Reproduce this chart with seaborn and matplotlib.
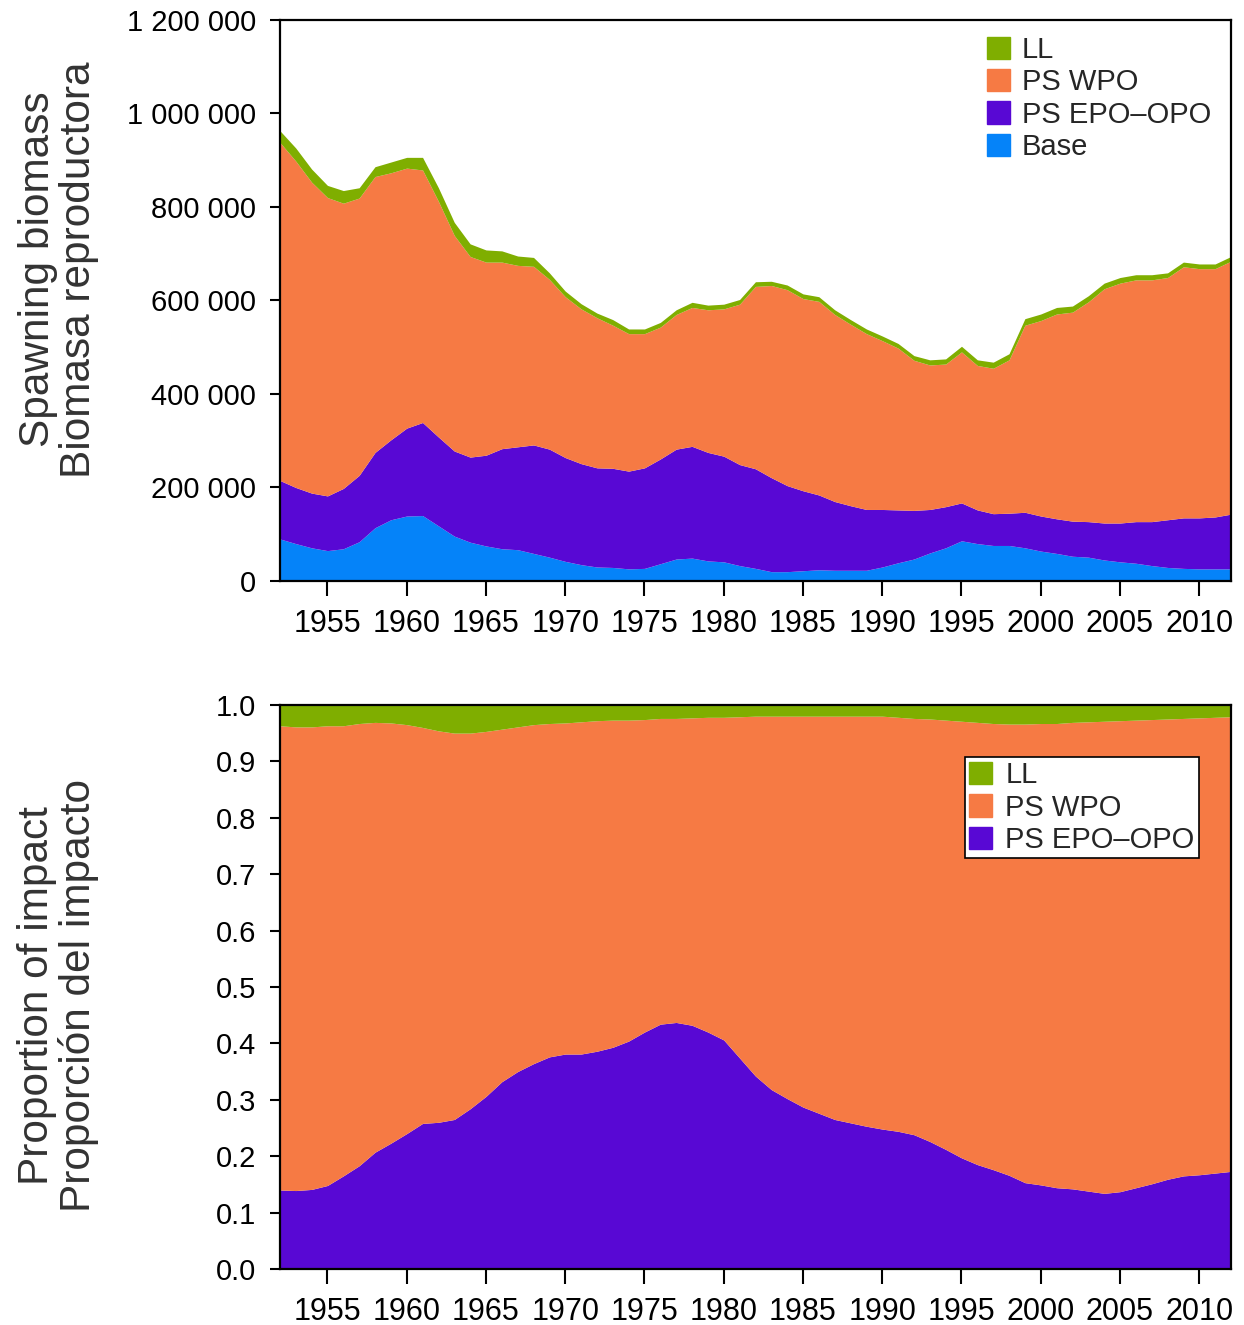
import numpy as np
import pandas as pd
import seaborn as sns
import matplotlib
matplotlib.use("Agg")
import matplotlib.pyplot as plt
from matplotlib.patches import Patch
from matplotlib.ticker import FuncFormatter, MultipleLocator

years = list(range(1952, 2013))

# spawning biomass components (thousands of t), stacked bottom to top
base = [90, 80, 71, 65, 69, 84, 114, 131, 139, 140, 118, 96, 83, 75, 69, 67, 59, 51, 42, 35,
        30, 29, 26, 27, 37, 47, 49, 43, 41, 33, 27, 20, 20, 22, 24, 23, 23, 23, 30, 39,
        47, 60, 71, 86, 80, 76, 76, 71, 64, 59, 53, 51, 45, 41, 38, 33, 29, 27, 26, 26, 26]
ps_epo = [125, 120, 117, 117, 129, 142, 161, 171, 188, 199, 190, 182, 182, 194, 214, 220, 232, 231, 222, 216,
          212, 212, 209, 215, 224, 235, 239, 232, 226, 216, 213, 201, 184, 171, 160, 147, 138, 130, 123, 113,
          104, 93, 88, 81, 72, 68, 69, 76, 75, 74, 75, 76, 79, 83, 89, 94, 102, 108, 109, 111, 117]
ps_wpo = [723, 698, 665, 638, 610, 593, 590, 571, 556, 540, 504, 461, 429, 413, 399, 388, 382, 363, 344, 331,
          321, 306, 294, 287, 282, 288, 297, 305, 315, 343, 390, 411, 419, 411, 414, 400, 388, 376, 361, 346,
          321, 309, 305, 323, 309, 311, 328, 400, 418, 438, 447, 470, 501, 513, 517, 517, 518, 537, 533, 531, 541]
ll = [25, 28, 28, 26, 27, 22, 21, 23, 23, 27, 29, 28, 27, 26, 24, 20, 19, 14, 12, 11,
      10, 12, 10, 10, 10, 10, 11, 10, 10, 10, 10, 9, 10, 10, 10, 10, 10, 10, 10, 10,
      10, 11, 11, 12, 12, 13, 13, 14, 14, 14, 13, 13, 12, 12, 11, 11, 10, 10, 10, 10, 10]

# proportion of impact
prop_epo = [0.140, 0.139, 0.141, 0.148, 0.165, 0.183, 0.207, 0.223, 0.240, 0.258, 0.260, 0.265, 0.284, 0.306,
            0.332, 0.350, 0.364, 0.376, 0.381, 0.381, 0.386, 0.393, 0.404, 0.420, 0.434, 0.437, 0.432, 0.420,
            0.406, 0.374, 0.342, 0.318, 0.302, 0.287, 0.276, 0.265, 0.259, 0.253, 0.248, 0.244, 0.238, 0.226,
            0.212, 0.197, 0.185, 0.176, 0.166, 0.153, 0.149, 0.144, 0.142, 0.138, 0.134, 0.137, 0.144, 0.151,
            0.159, 0.165, 0.167, 0.170, 0.173]
prop_ll = [0.037, 0.039, 0.039, 0.037, 0.037, 0.033, 0.031, 0.032, 0.035, 0.040, 0.046, 0.050, 0.050, 0.047,
           0.043, 0.039, 0.035, 0.033, 0.032, 0.030, 0.028, 0.027, 0.027, 0.026, 0.024, 0.024, 0.023, 0.022,
           0.022, 0.021, 0.020, 0.020, 0.020, 0.020, 0.020, 0.020, 0.020, 0.020, 0.020, 0.022, 0.024, 0.025,
           0.027, 0.029, 0.031, 0.033, 0.034, 0.034, 0.033, 0.033, 0.031, 0.030, 0.029, 0.028, 0.027, 0.026,
           0.025, 0.024, 0.023, 0.022, 0.021]
prop_wpo = [round(1 - e - l, 3) for e, l in zip(prop_epo, prop_ll)]

colors = {"LL": "#7FAE00", "PS WPO": "#F67A44", "PS EPO\u2013OPO": "#5808D4", "Base": "#0583F9"}

sns.set_theme(style="ticks")
plt.rcParams["font.family"] = ["Liberation Sans", "DejaVu Sans"]

df_top = pd.DataFrame({"Base": base, "PS EPO\u2013OPO": ps_epo, "PS WPO": ps_wpo, "LL": ll},
                      index=years) * 1000
df_bot = pd.DataFrame({"PS EPO\u2013OPO": prop_epo, "PS WPO": prop_wpo, "LL": prop_ll}, index=years)

fig = plt.figure(figsize=(12.44, 13.25), dpi=100)
ax1 = fig.add_axes([0.225, 0.5615, 0.7645, 0.4235])
ax2 = fig.add_axes([0.225, 0.0423, 0.7645, 0.4257])

ax1.stackplot(df_top.index, *[df_top[c] for c in df_top.columns],
              colors=[colors[c] for c in df_top.columns], linewidth=0)
ax2.stackplot(df_bot.index, *[df_bot[c] for c in df_bot.columns],
              colors=[colors[c] for c in df_bot.columns], linewidth=0)

for ax in (ax1, ax2):
    ax.set_xlim(1952, 2012)
    ax.set_xticks(range(1955, 2011, 5))
    for sp in ax.spines.values():
        sp.set_linewidth(1.6)
        sp.set_color("black")
    ax.tick_params(axis="y", length=7, width=1.5, pad=10, labelsize=21, colors="black")
    ax.tick_params(axis="x", length=11, width=1.5, pad=9, labelsize=22, colors="black")

ax1.set_ylim(0, 1200000)
ax1.yaxis.set_major_locator(MultipleLocator(200000))
ax1.yaxis.set_major_formatter(FuncFormatter(lambda v, p: f"{v:,.0f}".replace(",", " ")))
ax1.set_ylabel("Spawning biomass\nBiomasa reproductora", fontsize=30.5, color="#333333", linespacing=1.05)
ax1.yaxis.set_label_coords(-0.19, 0.555)

ax2.set_ylim(0, 1)
ax2.yaxis.set_major_locator(MultipleLocator(0.1))
ax2.yaxis.set_major_formatter(FuncFormatter(lambda v, p: f"{v:.1f}"))
ax2.set_ylabel("Proportion of impact\nProporción del impacto", fontsize=30.5, color="#333333", linespacing=1.05)
ax2.yaxis.set_label_coords(-0.19, 0.485)

h_top = [Patch(color=colors[k], label=k) for k in ["LL", "PS WPO", "PS EPO\u2013OPO", "Base"]]
ax1.legend(handles=h_top, loc="upper left", bbox_to_anchor=(0.722, 1.008), frameon=False,
           fontsize=21, handlelength=0.8, handleheight=0.8, handletextpad=0.4,
           labelspacing=0.15, borderpad=0.2)

h_bot = [Patch(color=colors[k], label=k) for k in ["LL", "PS WPO", "PS EPO\u2013OPO"]]
leg = ax2.legend(handles=h_bot, loc="upper left", bbox_to_anchor=(0.72, 0.908), frameon=True,
                 fancybox=False, fontsize=21, handlelength=0.8, handleheight=0.8, handletextpad=0.45,
                 labelspacing=0.15, borderpad=0.15, borderaxespad=0)
leg.get_frame().set_edgecolor("black")
leg.get_frame().set_linewidth(1.2)
leg.get_frame().set_alpha(1)

fig.savefig("out.png", dpi=100)
